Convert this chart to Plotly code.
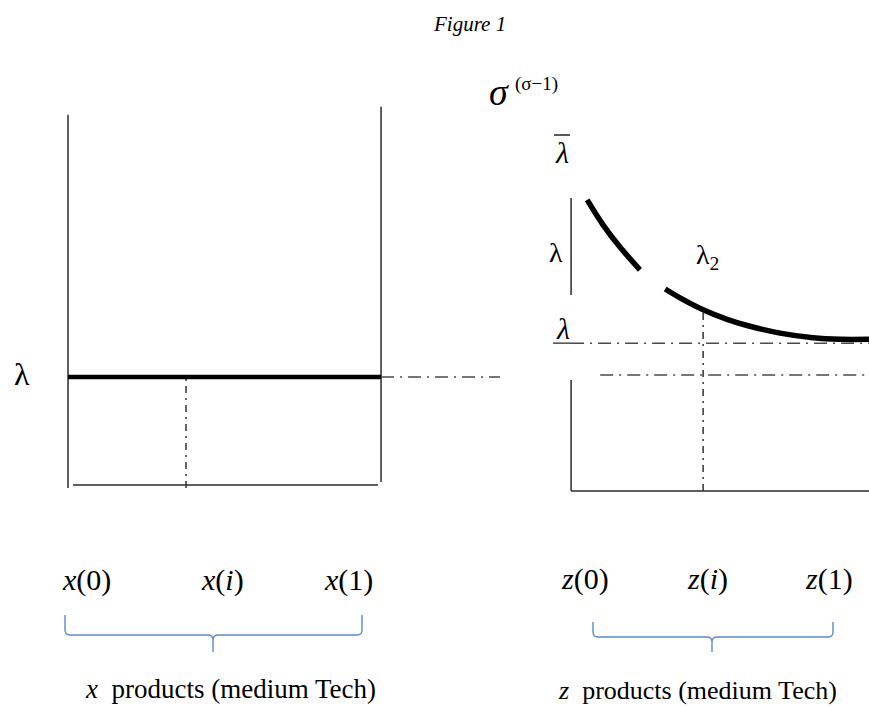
import plotly.graph_objects as go

# ---------------- data (diagram units) ----------------
# Left panel: x-products, flat price line at lambda
x_flat = [0.0, 1.0]
lam_left = [2.91, 2.91]
x_i = 0.377
x_extension = [1.0, 1.38]

# Right panel: z-products, declining sigma^(sigma-1) curve (two pieces)
z_curve_a = [0.062, 0.123, 0.188, 0.265]
s_curve_a = [7.58, 6.93, 6.35, 5.76]
z_curve_b = [0.362, 0.419, 0.508, 0.600, 0.677, 0.804, 0.931, 1.035, 1.146]
s_curve_b = [5.26, 5.03, 4.72, 4.47, 4.31, 4.11, 3.99, 3.95, 3.95]
z_i = 0.508
lam_under = 3.85      # underlined lambda level
lam_low = 3.02        # continuation of the left-panel lambda level
z_axis_upper = [5.10, 7.63]
z_axis_lower = [0.0, 2.89]

x_labels = ["<i>x</i>(0)", "<i>x</i>(<i>i</i>)", "<i>x</i>(1)"]
z_labels = ["<i>z</i>(0)", "<i>z</i>(<i>i</i>)", "<i>z</i>(1)"]

# ---------------- layout helpers ----------------
W, H = 869, 707


def px(v):
    return v / W


def py(v):
    return 1 - v / H


SERIF = "Liberation Serif"
AX = "#2b2b2b"
DASHDOT = "13px,6px,2px,6px"
DOTTED = "7px,5px,2px,5px"
BLUE = "#5b8bd1"

fig = go.Figure()


def seg(xs, ys, ax, width=1.5, color=AX, dash="solid", shape="linear"):
    fig.add_trace(go.Scatter(
        x=xs, y=ys, mode="lines", xaxis=ax[0], yaxis=ax[1],
        line=dict(color=color, width=width, dash=dash, shape=shape),
        hoverinfo="skip", showlegend=False))


L = ("x", "y")
R = ("x2", "y2")

# left panel frame
seg([0, 0], [0, 9.79], L)
seg([1, 1], [0.16, 10.0], L)
seg([0.016, 0.99], [0.08, 0.08], L)
# left panel lambda line and guides
seg(x_flat, lam_left, L, width=4.5, color="black")
seg(x_extension, [lam_left[1]] * 2, L, width=1.5, color="#4a4a4a", dash=DASHDOT)
seg([x_i, x_i], [0, lam_left[0]], L, width=1.5, color="#333333", dash=DOTTED)

# right panel axes
seg([0, 0], z_axis_upper, R)
seg([0, 0], z_axis_lower, R)
seg([0, 1.146], [0, 0], R)
# right panel guides
seg([-0.069, 0], [lam_under] * 2, R, width=1.3)
seg([0, 1.146], [lam_under] * 2, R, width=1.5, color="#4a4a4a", dash=DASHDOT)
seg([0.112, 1.146], [lam_low] * 2, R, width=1.5, color="#4a4a4a", dash=DASHDOT)
seg([z_i, z_i], [0, s_curve_b[2]], R, width=1.5, color="#333333", dash=DOTTED)
# right panel curve
seg(z_curve_a, s_curve_a, R, width=5.5, color="black", shape="spline")
seg(z_curve_b, s_curve_b, R, width=5.5, color="black", shape="spline")

# ---------------- text ----------------
ann = []


def text(x, y, t, size, xanchor="center"):
    ann.append(dict(x=px(x), y=py(y), xref="paper", yref="paper", text=t,
                    showarrow=False, xanchor=xanchor, yanchor="middle",
                    font=dict(family=SERIF, size=size, color="black")))


text(470, 24, "<i>Figure 1</i>", 21)
text(499, 92, "<i>σ</i>", 38)
text(536, 84, "(σ−1)", 19)
text(22, 374, "λ", 32)
text(562, 152, "<i>λ</i>", 30)
text(556, 252, "λ", 28)
text(707, 256, "λ<sub>2</sub>", 28)
text(563, 328, "<i>λ</i>", 30)

for xc, t in zip([86, 222, 348], x_labels):
    text(xc, 580, t, 30)
for xc, t in zip([585, 707, 829], z_labels):
    text(xc, 579, t, 30)

text(231, 689, "<i>x</i>  products (medium Tech)", 27)
text(697, 690, "<i>z</i>  products (medium Tech)", 26)


# ---------------- curly braces ----------------
def brace(x0, x1, xm, ytop, yh, ybot):
    r = 5
    p = (f"M {px(x0)},{py(ytop)} L {px(x0)},{py(yh - r)} "
         f"Q {px(x0)},{py(yh)} {px(x0 + r)},{py(yh)} "
         f"L {px(xm - r)},{py(yh)} Q {px(xm)},{py(yh)} {px(xm)},{py(yh + r)} "
         f"L {px(xm)},{py(ybot)} "
         f"M {px(xm)},{py(yh + r)} Q {px(xm)},{py(yh)} {px(xm + r)},{py(yh)} "
         f"L {px(x1 - r)},{py(yh)} Q {px(x1)},{py(yh)} {px(x1)},{py(yh - r)} "
         f"L {px(x1)},{py(ytop)}")
    return dict(type="path", path=p, xref="paper", yref="paper",
                line=dict(color=BLUE, width=1.4))


shapes = [brace(65, 362, 213, 615, 635, 652),
          brace(593, 833, 712, 622, 637, 652),
          # bar over the upper lambda label
          dict(type="line", xref="paper", yref="paper",
               x0=px(554), x1=px(570), y0=py(135), y1=py(135),
               line=dict(color="black", width=1.3))]

# ---------------- axes ----------------
hidden = dict(visible=False, showgrid=False, zeroline=False, fixedrange=True)
fig.update_layout(
    width=W, height=H,
    margin=dict(l=0, r=0, t=0, b=0),
    paper_bgcolor="white", plot_bgcolor="rgba(0,0,0,0)",
    xaxis=dict(domain=[px(40), px(500)], range=[-0.0895, 1.380], **hidden),
    yaxis=dict(domain=[py(500), py(100)], range=[-0.315, 10.18], **hidden),
    xaxis2=dict(domain=[px(530), 1.0], range=[-0.158, 1.146], **hidden),
    yaxis2=dict(domain=[py(500), py(100)], range=[-0.234, 10.18], **hidden),
    annotations=ann,
    shapes=shapes,
    showlegend=False,
)

fig.write_html("out.html", config={"displayModeBar": False})
